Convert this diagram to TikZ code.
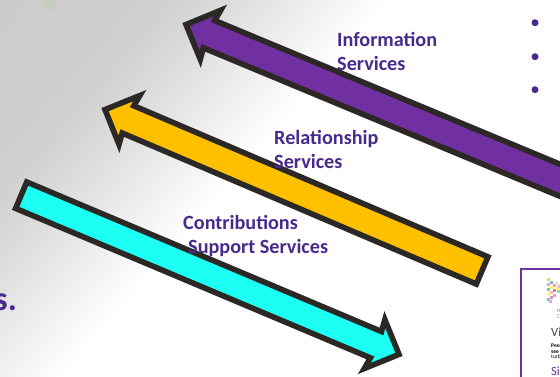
\documentclass[tikz,border=0pt]{standalone}
\usepackage{fontspec}
\setmainfont{Carlito}
\definecolor{strokec}{RGB}{44,40,37}
\definecolor{purplec}{RGB}{112,48,160}
\definecolor{orangec}{RGB}{255,192,0}
\definecolor{cyanc}{RGB}{28,255,243}
\definecolor{textc}{RGB}{72,42,140}
\definecolor{framec}{RGB}{112,48,160}
\definecolor{bgA}{RGB}{180,188,208}
\definecolor{bgB}{RGB}{205,203,203}
\definecolor{bgC}{RGB}{208,207,206}
\definecolor{bgD}{RGB}{222,222,222}
\definecolor{bgE}{RGB}{240,240,240}
\definecolor{blobc}{RGB}{196,206,190}
\pgfdeclareverticalshading{bgshade}{100bp}{color(0bp)=(white); color(39.6bp)=(white); color(42.8bp)=(bgE); color(46.7bp)=(bgD); color(50.3bp)=(bgC); color(57.8bp)=(bgB); color(61.3bp)=(bgA); color(100bp)=(bgA)}
\tikzset{
  bigarrow/.style={draw=strokec,line width=5.6pt,line join=miter,miter limit=20},
  label/.style={anchor=base west,inner sep=0pt,text=textc,font=\bfseries\fontsize{20.2}{20}\selectfont},
  bulletdot/.style={circle,fill=textc,inner sep=0pt,minimum size=7pt},
  tinytext/.style={anchor=base west,inner sep=0pt,text=black,font=\bfseries\fontsize{5.5}{6}\selectfont},
  insettext/.style={anchor=base west,inner sep=0pt,font=\fontsize{12.5}{13}\selectfont},
  graytext/.style={anchor=base west,inner sep=0pt,text=gray,font=\fontsize{5.5}{6}\selectfont},
}
\newcommand{\bigshaft}[6]{%
  \begin{scope}[shift={(#1,#2)},rotate=#3]
  \path[bigarrow,fill=#5] (0,0) -- (26.5,-26.5) -- (25,-#6) -- (#4,-#6) -- (#4,#6) -- (25,#6) -- (26.5,26.5) -- cycle;
  \end{scope}}
\begin{document}
\begin{tikzpicture}[x=1pt,y=1pt,yscale=-1]
\useasboundingbox (0,0) rectangle (560,377);
\clip (0,0) rectangle (560,377);
\fill[white] (0,0) rectangle (560,377);
\shade[shading=bgshade,shading angle=49] (-303,-316) rectangle (497,484);
\fill[blobc] (49,4) circle (6.5);
\bigshaft{186}{24.6}{22.6}{420}{purplec}{14.8}
\bigshaft{105}{109.6}{23.1}{410}{orangec}{14.8}
\bigshaft{399}{354.4}{202.85}{410}{cyanc}{14.3}
\node[label] (i1) at (337,47) {Information};
\node[label] (i2) at (337,70.5) {Services};
\node[label] (r1) at (274,145) {Relationship};
\node[label] (r2) at (274,168) {Services};
\node[label] (c1) at (183,229.5) {Contributions};
\node[label] (c2) at (188,253) {Support Services};
\node[label,font=\bfseries\fontsize{34}{34}\selectfont] (s) at (-6,310) {s.};
\node[bulletdot] (b1) at (535,22.7) {};
\node[bulletdot] (b2) at (535,56.7) {};
\node[bulletdot] (b3) at (535,89.7) {};
\draw[framec,line width=2pt,fill=white] (521,269) rectangle (570,390);
% logo: triangle of coloured dots
\foreach \px/\py/\c in {548/279/yellow!60!orange!70,551/282/teal!50,554/285/magenta!40,557/288/yellow!60,548/284/magenta!40,551/287/yellow!60,554/290/violet!50,558/291/teal!40,548/289/teal!50,551/292/orange!50,554/295/magenta!40,548/294/yellow!60,551/297/violet!40,548/299/teal!50,550/301/magenta!40,556/283/orange!30,559/286/violet!30}
  \fill[\c] (\px-1.5,\py-1.5) rectangle (\px+1.5,\py+1.5);
\node[graytext] (h) at (557,312) {H};
\node[graytext] (cc) at (557,318) {C};
\node[insettext,text=black!75] (v) at (551,336) {Vis};
\node[tinytext] (p1) at (551,347) {Peo};
\node[tinytext] (p2) at (551,353) {see};
\node[tinytext,font=\fontsize{5.5}{6}\selectfont] (p3) at (551,358) {turb};
\node[insettext,text=framec] (si) at (551,375) {Sin};
\end{tikzpicture}
\end{document}
